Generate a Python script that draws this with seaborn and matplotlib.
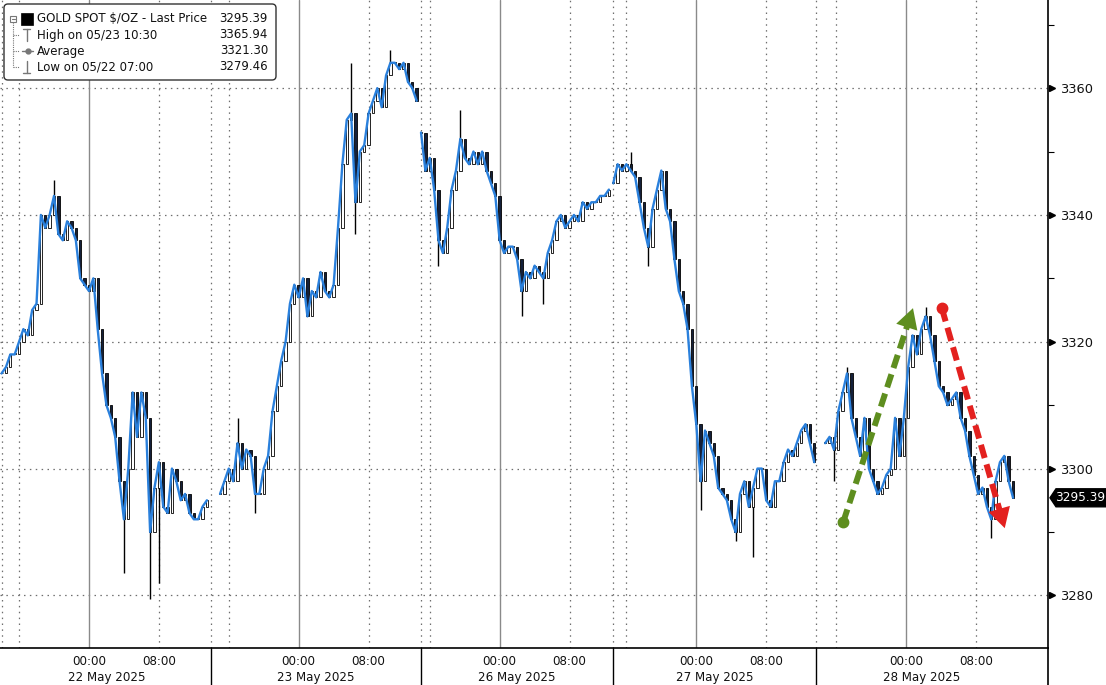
import numpy as np
import pandas as pd
import matplotlib
matplotlib.use("Agg")
import matplotlib.pyplot as plt
import matplotlib.transforms as mtransforms
from matplotlib.patches import FancyBboxPatch, Polygon
from matplotlib.lines import Line2D
import seaborn as sns

# trading sessions shown on the compressed time axis
session_labels = ["22 May 2025", "23 May 2025", "26 May 2025", "27 May 2025", "28 May 2025"]
session_start = ["2025-05-21 14:00", "2025-05-22 14:00", "2025-05-25 15:00", "2025-05-26 14:30", "2025-05-27 13:45"]
session_end = ["2025-05-22 14:00", "2025-05-23 14:00", "2025-05-26 13:00", "2025-05-27 13:45", "2025-05-28 13:45"]
first_bar = ["2025-05-21 14:00", "2025-05-22 15:00", "2025-05-25 15:00", "2025-05-26 14:30", "2025-05-27 14:45"]
axis_end = "2025-05-28 16:15"

# 30 minute closes
close_s1 = [3315, 3316, 3318, 3318, 3320, 3322, 3321, 3325, 3326, 3340, 3338, 3340,
            3343, 3337, 3336, 3339, 3338, 3336, 3330, 3329, 3328, 3330, 3322, 3315,
            3310, 3308, 3305, 3298, 3292, 3300, 3312, 3305, 3312, 3308, 3290, 3297,
            3301, 3294, 3293, 3300, 3298, 3295, 3296, 3293, 3292, 3292, 3294, 3295]
close_s2 = [3296, 3298, 3300, 3298, 3304, 3300, 3303, 3302, 3296, 3296, 3300, 3302,
            3309, 3313, 3317, 3320, 3326, 3329, 3327, 3330, 3324, 3328, 3327, 3331,
            3328, 3327, 3329, 3338, 3348, 3355, 3356, 3342, 3350, 3351, 3356, 3358,
            3360, 3357, 3362, 3364, 3364, 3363, 3364, 3361, 3360, 3358]
close_s3 = [3353, 3347, 3349, 3344, 3336, 3334, 3338, 3344, 3347, 3352, 3349, 3348,
            3350, 3348, 3350, 3347, 3345, 3343, 3336, 3334, 3335, 3335, 3333, 3328,
            3331, 3330, 3332, 3331, 3330, 3334, 3336, 3339, 3340, 3338, 3339, 3340,
            3339, 3342, 3341, 3342, 3342, 3343, 3343, 3344]
close_s4 = [3345, 3348, 3347, 3348, 3347, 3346, 3342, 3338, 3335, 3341, 3344, 3347,
            3341, 3339, 3333, 3328, 3326, 3322, 3313, 3307, 3298, 3306, 3304, 3302,
            3297, 3296, 3295, 3292, 3290, 3296, 3298, 3294, 3297, 3300, 3300, 3295,
            3294, 3298, 3298, 3301, 3303, 3302, 3304, 3306, 3307, 3304, 3301]
close_s5 = [3304, 3305, 3303, 3309, 3312, 3315, 3308, 3305, 3302, 3308, 3300, 3298,
            3296, 3297, 3299, 3300, 3308, 3302, 3308, 3316, 3321, 3318, 3322, 3324,
            3321, 3317, 3313, 3312, 3310, 3311, 3312, 3308, 3306, 3302, 3299, 3296,
            3297, 3294, 3292, 3298, 3301, 3302, 3298, 3295.39]
closes = [close_s1, close_s2, close_s3, close_s4, close_s5]

# long wicks
wick_times = ["2025-05-21 20:00", "2025-05-22 04:00", "2025-05-22 07:00", "2025-05-22 08:00",
              "2025-05-22 17:00", "2025-05-22 19:00", "2025-05-23 06:00", "2025-05-23 06:30",
              "2025-05-23 10:30", "2025-05-25 17:00", "2025-05-25 19:30", "2025-05-26 02:30",
              "2025-05-26 05:00", "2025-05-26 16:30", "2025-05-26 18:30", "2025-05-27 00:30",
              "2025-05-27 04:30", "2025-05-27 06:30", "2025-05-27 15:45", "2025-05-27 17:15",
              "2025-05-28 02:15", "2025-05-28 09:45"]
wick_prices = [3345.5, 3283.5, 3279.46, 3282, 3308, 3293, 3364, 3337, 3365.94, 3332, 3356.5,
               3324, 3326, 3350, 3332, 3293.5, 3288.5, 3286, 3298, 3316, 3325.5, 3289]

legend_rows = ["GOLD SPOT $/OZ - Last Price", "High on 05/23 10:30", "Average", "Low on 05/22 07:00"]
legend_values = ["3295.39", "3365.94", "3321.30", "3279.46"]
last_price = 3295.39

yticks = [3280, 3300, 3320, 3340, 3360]
yminor = [3270, 3290, 3310, 3330, 3350, 3370]

# arrow annotations (time position in hours, price)
green_arrow = [(96.3, 3291.5), (104.3, 3325.3)]
red_arrow = [(107.6, 3325.3), (114.8, 3290.6)]

W, H = 1106, 685
blue = "#2a80dc"
green = "#5e8e1f"
red = "#e3211f"
grid_c = "#6e6e6e"
dotted = (0, (1.2, 3.5))

sns.set_theme(style="white")
plt.rcParams["font.family"] = ["DejaVu Sans"]

starts = pd.to_datetime(session_start)
ends = pd.to_datetime(session_end)
hours = pd.Timedelta(hours=1)
durations = np.array([(e - s) / hours for s, e in zip(starts, ends)])
offsets = np.concatenate([[0.0], np.cumsum(durations)[:-1]])


def session_of(ts):
    for i in range(len(starts)):
        if starts[i] <= ts < ends[i]:
            return i
    return len(starts) - 1


def to_pos(ts, i=None):
    ts = pd.Timestamp(ts)
    if i is None:
        i = session_of(ts)
    return offsets[i] + (ts - starts[i]) / hours


rows = []
for i, vals in enumerate(closes):
    times = pd.date_range(first_bar[i], periods=len(vals), freq="30min")
    for ts, v in zip(times, vals):
        rows.append((i, ts, to_pos(ts, i), v))
df = pd.DataFrame(rows, columns=["session", "time", "t", "close"])
df["open"] = df.groupby("session")["close"].shift(1).fillna(df["close"])

fig = plt.figure(figsize=(W / 100, H / 100), dpi=100)
fig.patch.set_facecolor("white")
ax = fig.add_axes([0, 37 / H, 1048 / W, 648 / H])
ax.set_facecolor("white")

x_left = to_pos(starts[0]) - 0.18
x_right = to_pos(pd.Timestamp(axis_end), 4)
y_lo, y_hi = 3271.7, 3373.9

# grid
for y in yticks:
    ax.axhline(y, color=grid_c, lw=0.9, ls=dotted, zorder=0)

tick_major, tick_minor, tick_labels = [], [], []
for i in range(len(starts)):
    end = ends[i] if i < len(starts) - 1 else pd.Timestamp(axis_end)
    ax.axvline(offsets[i], color=grid_c, lw=0.9, ls=dotted, zorder=0)
    h = starts[i].ceil("4h")
    while h < end - pd.Timedelta(minutes=30):
        p = to_pos(h, i)
        if h.hour == 0:
            tick_major.append(p)
            ax.axvline(p, color="#8a8a8a", lw=1.0, zorder=0)
        else:
            tick_minor.append(p)
            if h.hour in (8, 16):
                ax.axvline(p, color=grid_c, lw=0.9, ls=dotted, zorder=0)
        if h.hour in (0, 8):
            tick_labels.append((p, h.strftime("%H:%M")))
        h += pd.Timedelta(hours=4)

# candles
up = df["close"] >= df["open"]
body_lo = np.minimum(df["open"], df["close"])
body_h = np.maximum((df["close"] - df["open"]).abs(), 0.15)
ax.bar(df["t"], body_h, bottom=body_lo, width=0.27,
       color=np.where(up, "white", "#14203a"), edgecolor="black", linewidth=0.6, zorder=2)

wt = pd.to_datetime(wick_times)
for ts, wp in zip(wt, wick_prices):
    j = (df["time"] - ts).abs().idxmin()
    ax.vlines(df.loc[j, "t"], df.loc[j, "close"], wp, color="black", lw=1.0, zorder=1.9)

sns.lineplot(data=df, x="t", y="close", units="session", estimator=None,
             color=blue, lw=1.7, ax=ax, zorder=3)

# arrows
for (t0, p0), (t1, p1), c in [(green_arrow[0], green_arrow[1], green), (red_arrow[0], red_arrow[1], red)]:
    f = 0.92
    ax.plot([t0, t0 + f * (t1 - t0)], [p0, p0 + f * (p1 - p0)], color=c, lw=4.3,
            dashes=(2.3, 1.1), dash_capstyle="butt", zorder=5)
    ax.plot([t0], [p0], "o", color=c, ms=7.5, zorder=5)
    ax.annotate("", xy=(t1, p1), xytext=(t0 + 0.85 * (t1 - t0), p0 + 0.85 * (p1 - p0)),
                arrowprops=dict(arrowstyle="-|>,head_length=0.9,head_width=0.5", color=c,
                                lw=0, mutation_scale=16, shrinkA=0, shrinkB=0), zorder=6)

ax.set_xlim(x_left, x_right)
ax.set_ylim(y_lo, y_hi)

# axes styling
for s in ["top", "left"]:
    ax.spines[s].set_visible(False)
ax.spines["bottom"].set_color("black")
ax.spines["right"].set_color("black")
ax.spines["bottom"].set_linewidth(1.2)
ax.spines["right"].set_linewidth(1.2)

ax.set_xticks(tick_major)
ax.set_xticks(tick_minor, minor=True)
ax.set_xticklabels([])
ax.tick_params(axis="x", which="major", direction="in", length=5, width=2, color="black")
ax.tick_params(axis="x", which="minor", direction="in", length=4, width=0.8, color="black")
ax.set_xlabel("")
ax.set_ylabel("")

ax.yaxis.tick_right()
ax.set_yticks(yticks)
ax.set_yticklabels([str(v) for v in yticks])
ax.set_yticks(yminor, minor=True)
ax.set_ylim(y_lo, y_hi)
ax.tick_params(axis="y", which="major", length=0, pad=9, labelsize=9.4, labelcolor="#111111")
ax.tick_params(axis="y", which="minor", direction="out", length=4, width=0.8, color="black")
tri = mtransforms.blended_transform_factory(ax.transAxes, ax.transData)
ax.plot([1.0 + 3.5 / 1048] * len(yticks), yticks, linestyle="none", marker=">", ms=5,
        color="black", transform=tri, clip_on=False, zorder=6)

# bottom band labels
for p, lab in tick_labels:
    ax.annotate(lab, xy=(p, 0), xycoords=("data", "axes fraction"), xytext=(0, -9.5),
                textcoords="offset points", ha="center", va="center", fontsize=8.6, color="#111111")
for i, lab in enumerate(session_labels):
    dur = 24 if i == len(starts) - 1 else durations[i]
    ax.annotate(lab, xy=(offsets[i] + dur / 2, 0), xycoords=("data", "axes fraction"),
                xytext=(0, -21), textcoords="offset points", ha="center", va="center",
                fontsize=8.6, color="#111111")

P = mtransforms.IdentityTransform()
disp = ax.transData
for o in offsets[1:]:
    xd = disp.transform((o, 3300))[0]
    fig.add_artist(Line2D([xd, xd], [0, 37], color="black", lw=1.0, transform=P))
fig.add_artist(Line2D([1048, 1048], [0, 37], color="black", lw=1.2, transform=P))

# last price tag
yl = disp.transform((0, last_price))[1]
fig.add_artist(Polygon([[1050, yl], [1056, yl + 9], [W, yl + 9], [W, yl - 9], [1056, yl - 9]],
                       closed=True, facecolor="black", edgecolor="black", transform=P))
fig.text(1080 / W, yl / H, f"{last_price:.2f}", color="white", fontsize=8.7, ha="center", va="center")


# legend box
def py(y):
    return H - y


fig.add_artist(FancyBboxPatch((4, py(80)), 272, 76, boxstyle="round,pad=0,rounding_size=4",
                              facecolor="white", edgecolor="#333333", lw=1.0, transform=P, zorder=10))
row_y = [19, 35, 51, 67]
for ry, lab, val in zip(row_y, legend_rows, legend_values):
    fig.text(37 / W, 1 - ry / H, lab, fontsize=8.5, ha="left", va="center", color="#111111", zorder=11)
    fig.text(268 / W, 1 - ry / H, val, fontsize=8.5, ha="right", va="center", color="#111111", zorder=11)
lg = "#777777"
fig.add_artist(Line2D([13, 13], [py(22), py(67)], color=lg, lw=0.8, ls=(0, (1, 1)), transform=P, zorder=11))
for ry in row_y[1:]:
    fig.add_artist(Line2D([13, 19], [py(ry), py(ry)], color=lg, lw=0.8, ls=(0, (1, 1)), transform=P, zorder=11))
fig.add_artist(FancyBboxPatch((10, py(22)), 6, 6, boxstyle="square,pad=0", facecolor="white",
                              edgecolor=lg, lw=0.8, transform=P, zorder=11))
fig.add_artist(Line2D([11.5, 14.5], [py(19), py(19)], color=lg, lw=0.8, transform=P, zorder=12))
fig.add_artist(FancyBboxPatch((21, py(25)), 12, 12, boxstyle="square,pad=0", facecolor="black",
                              edgecolor="black", lw=0.5, transform=P, zorder=11))
# high icon
fig.add_artist(Line2D([23, 30], [py(29), py(29)], color=lg, lw=1.0, transform=P, zorder=11))
fig.add_artist(Line2D([26.5, 26.5], [py(29), py(41)], color=lg, lw=1.0, transform=P, zorder=11))
# average icon
fig.add_artist(Line2D([22, 33], [py(51), py(51)], color=lg, lw=1.0, transform=P, zorder=11))
fig.add_artist(Line2D([27.5], [py(51)], marker="o", ms=3.5, color=lg, transform=P, zorder=12))
# low icon
fig.add_artist(Line2D([23, 30], [py(73), py(73)], color=lg, lw=1.0, transform=P, zorder=11))
fig.add_artist(Line2D([26.5, 26.5], [py(61), py(73)], color=lg, lw=1.0, transform=P, zorder=11))

fig.savefig("out.png", dpi=100, facecolor="white")
